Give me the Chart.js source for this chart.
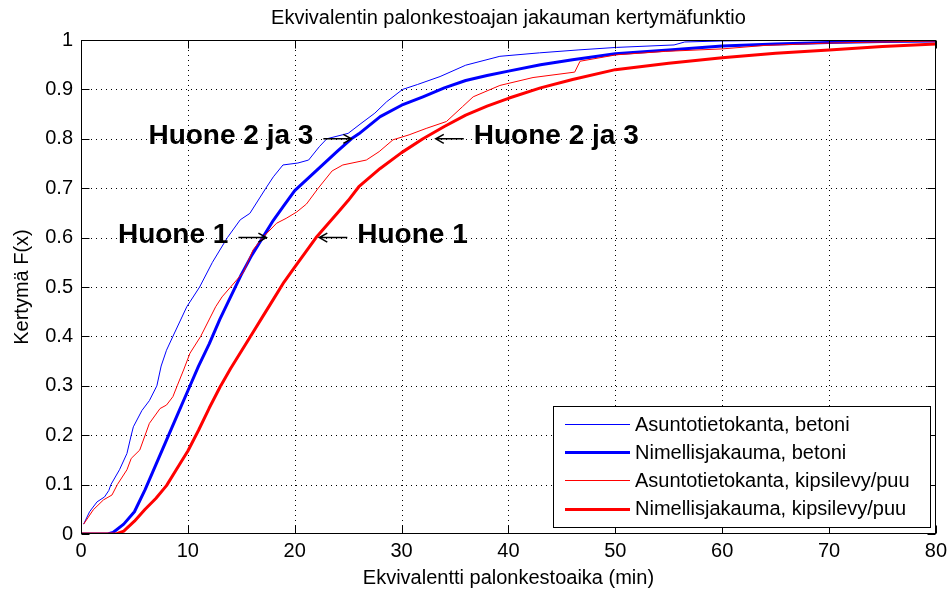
<!DOCTYPE html>
<html>
<head>
<meta charset="utf-8">
<script src="https://cdn.jsdelivr.net/npm/chart.js@4.4.1/dist/chart.umd.min.js"></script>
<style>
  html, body { margin: 0; padding: 0; background: #fff; }
  #wrap { width: 952px; height: 594px; }
</style>
</head>
<body>
<div id="wrap"><canvas id="c" width="952" height="594"></canvas></div>
<script>
// Texts
const chartTitle = 'Ekvivalentin palonkestoajan jakauman kertymäfunktio';
const xTitle = 'Ekvivalentti palonkestoaika (min)';
const yTitle = 'Kertymä F(x)';

// Axis ticks
const xTickValues = [0, 10, 20, 30, 40, 50, 60, 70, 80];
const yTickValues = [0, 0.1, 0.2, 0.3, 0.4, 0.5, 0.6, 0.7, 0.8, 0.9, 1];
const yTickLabels = ['0', '0.1', '0.2', '0.3', '0.4', '0.5', '0.6', '0.7', '0.8', '0.9', '1'];

// Series labels
const seriesLabels = [
  'Asuntotietokanta, betoni',
  'Nimellisjakauma, betoni',
  'Asuntotietokanta, kipsilevy/puu',
  'Nimellisjakauma, kipsilevy/puu'
];

// Asuntotietokanta, betoni (empirical CDF)
const asuBetoniX = [0.25, 0.8, 1.5, 2.2, 2.6, 2.8, 3.6, 4.3, 4.7, 4.9, 5.7, 6.4, 7.1, 7.5, 8.0, 8.6, 9.9, 11.1, 12.3, 13.7, 14.9, 15.8, 17.3, 18.0, 18.9, 20.3, 21.3, 22.3, 23.0, 25.0, 26.2, 27.5, 28.6, 30.1, 31.5, 33.6, 36.0, 39.2, 42.9, 46.6, 50.1, 55.5, 56.5, 60, 66.5, 80];
const asuBetoniF = [0.02, 0.045, 0.065, 0.075, 0.088, 0.1, 0.13, 0.163, 0.2, 0.217, 0.25, 0.27, 0.3, 0.34, 0.372, 0.4, 0.46, 0.5, 0.55, 0.6, 0.636, 0.649, 0.7, 0.723, 0.747, 0.751, 0.757, 0.784, 0.8, 0.811, 0.831, 0.852, 0.875, 0.9, 0.91, 0.926, 0.949, 0.967, 0.974, 0.98, 0.985, 0.99, 0.996, 0.998, 1.0, 1.0];

// Nimellisjakauma, betoni
const nimBetoniX = [0, 2.5, 3, 4, 5, 6, 7, 8, 9, 10, 11, 12, 13, 14, 15, 16, 17, 18, 19, 20, 22, 24, 25.3, 26, 28, 30, 32, 34, 36, 38, 40, 43, 46, 50, 55, 60, 65, 70, 75, 80];
const nimBetoniF = [0, 0, 0.003, 0.02, 0.045, 0.09, 0.14, 0.19, 0.24, 0.29, 0.34, 0.385, 0.435, 0.48, 0.525, 0.565, 0.6, 0.635, 0.665, 0.695, 0.735, 0.775, 0.8, 0.81, 0.845, 0.868, 0.885, 0.903, 0.918, 0.928, 0.937, 0.95, 0.96, 0.972, 0.98, 0.988, 0.992, 0.995, 0.997, 0.998];

// Asuntotietokanta, kipsilevy/puu (empirical CDF)
const asuPuuX = [0.25, 1.15, 2.1, 2.9, 3.4, 4.3, 4.7, 5.5, 6.0, 6.4, 7.4, 8.0, 8.6, 9.0, 9.6, 10.2, 11.2, 12.6, 13.2, 14.0, 15.2, 16.1, 17.0, 18.3, 19.2, 20.2, 21.1, 22.2, 23.5, 24.5, 26.7, 27.9, 29.2, 30.7, 32.3, 34.2, 35.7, 36.7, 39.2, 42.3, 46.2, 46.7, 50.1, 54.7, 60, 64, 70.3, 80];
const asuPuuF = [0.02, 0.049, 0.069, 0.079, 0.1, 0.13, 0.153, 0.17, 0.2, 0.224, 0.254, 0.261, 0.278, 0.3, 0.332, 0.366, 0.4, 0.46, 0.48, 0.5, 0.53, 0.575, 0.6, 0.629, 0.639, 0.652, 0.668, 0.7, 0.735, 0.747, 0.757, 0.774, 0.798, 0.808, 0.821, 0.835, 0.865, 0.885, 0.908, 0.924, 0.935, 0.957, 0.97, 0.977, 0.982, 0.989, 0.994, 0.998];

// Nimellisjakauma, kipsilevy/puu
const nimPuuX = [0, 3.3, 4, 5, 6, 7, 8, 9, 10, 11, 12, 13, 14, 15, 16, 17, 18, 19, 20, 21, 22, 23, 24, 25, 26, 28, 30, 32, 34, 36, 38, 40, 43, 46, 50, 55, 60, 65, 70, 75, 80];
const nimPuuF = [0, 0, 0.006, 0.026, 0.05, 0.072, 0.098, 0.133, 0.168, 0.21, 0.255, 0.297, 0.335, 0.37, 0.405, 0.44, 0.475, 0.51, 0.54, 0.57, 0.6, 0.625, 0.65, 0.675, 0.703, 0.74, 0.772, 0.8, 0.825, 0.848, 0.866, 0.882, 0.903, 0.92, 0.94, 0.953, 0.964, 0.973, 0.98, 0.987, 0.992];

// Text callouts pointing at the curves (data coordinates of the arrow tip)
const calloutTexts = ['Huone 2 ja 3', 'Huone 2 ja 3', 'Huone 1', 'Huone 1'];
const calloutX = [25.3, 33.2, 17.35, 22.3];
const calloutF = [0.8, 0.8, 0.6, 0.6];
const calloutSide = ['left', 'right', 'left', 'right'];

const FONT = '"Liberation Sans", Arial, Helvetica, sans-serif';

function pts(xs, ys) { return xs.map((x, i) => ({ x: x, y: ys[i] })); }

const lineBase = { pointRadius: 0, pointHoverRadius: 0, tension: 0, fill: false, borderJoinStyle: 'round' };

const datasets = [
  Object.assign({ label: seriesLabels[0], data: pts(asuBetoniX, asuBetoniF), borderColor: '#0000ff', borderWidth: 1, order: 4 }, lineBase),
  Object.assign({ label: seriesLabels[1], data: pts(nimBetoniX, nimBetoniF), borderColor: '#0000ff', borderWidth: 3, order: 3 }, lineBase),
  Object.assign({ label: seriesLabels[2], data: pts(asuPuuX, asuPuuF), borderColor: '#ff0000', borderWidth: 1, order: 2 }, lineBase),
  Object.assign({ label: seriesLabels[3], data: pts(nimPuuX, nimPuuF), borderColor: '#ff0000', borderWidth: 3, order: 1 }, lineBase)
];

function hline(ctx, x0, x1, y) { ctx.beginPath(); ctx.moveTo(x0, y); ctx.lineTo(x1, y); ctx.stroke(); }
function vline(ctx, x, y0, y1) { ctx.beginPath(); ctx.moveTo(x, y0); ctx.lineTo(x, y1); ctx.stroke(); }

// Dotted grid, boxed frame with inward ticks, callouts, legend and titles
const decor = {
  id: 'decor',
  beforeDatasetsDraw(chart) {
    const { ctx, chartArea: a, scales: { x, y } } = chart;
    ctx.save();
    ctx.strokeStyle = '#000';
    ctx.lineWidth = 1;
    ctx.setLineDash([1, 4]);
    xTickValues.forEach(v => {
      if (v === x.min || v === x.max) return;
      const px = Math.round(x.getPixelForValue(v)) + 0.5;
      vline(ctx, px, a.top, a.bottom);
    });
    yTickValues.forEach(v => {
      if (v === y.min || v === y.max) return;
      const py = Math.round(y.getPixelForValue(v)) + 0.5;
      hline(ctx, a.left, a.right, py);
    });
    ctx.restore();
  },
  afterDatasetsDraw(chart) {
    const { ctx, chartArea: a, scales: { x, y } } = chart;
    const L = Math.round(a.left) + 0.5, R = Math.round(a.right) - 0.5;
    const T = Math.round(a.top) + 0.5, B = Math.round(a.bottom) - 0.5;
    ctx.save();
    ctx.setLineDash([]);
    ctx.strokeStyle = '#000';
    ctx.lineWidth = 1;
    // frame
    ctx.strokeRect(L, T, R - L, B - T);
    // inward ticks on all four sides
    const tl = 8;
    xTickValues.forEach(v => {
      const px = Math.round(x.getPixelForValue(v)) + 0.5;
      vline(ctx, px, B, B - tl);
      vline(ctx, px, T, T + tl);
    });
    yTickValues.forEach(v => {
      const py = Math.round(y.getPixelForValue(v)) + 0.5;
      hline(ctx, L, L + tl, py);
      hline(ctx, R, R - tl, py);
    });

    // callouts
    ctx.fillStyle = '#000';
    ctx.font = 'bold 28px ' + FONT;
    ctx.textBaseline = 'alphabetic';
    ctx.lineWidth = 1.5;
    const arrowLen = 28, gap = 10;
    calloutTexts.forEach((t, i) => {
      const tx = x.getPixelForValue(calloutX[i]);
      const ty = y.getPixelForValue(calloutF[i]);
      const d = calloutSide[i] === 'left' ? -1 : 1;
      const x0 = tx + d * arrowLen;
      ctx.beginPath();
      ctx.moveTo(x0, ty); ctx.lineTo(tx, ty);
      ctx.moveTo(tx + d * 8, ty - 4.5); ctx.lineTo(tx, ty); ctx.lineTo(tx + d * 8, ty + 4.5);
      ctx.stroke();
      ctx.textAlign = d < 0 ? 'right' : 'left';
      ctx.fillText(t, x0 + d * gap, ty + 5);
    });

    // legend
    const lx = 553.5, ly = 406.5, lw = 377, lh = 121;
    ctx.fillStyle = '#fff';
    ctx.fillRect(lx, ly, lw, lh);
    ctx.lineWidth = 1;
    ctx.strokeStyle = '#000';
    ctx.strokeRect(lx, ly, lw, lh);
    ctx.font = '20px ' + FONT;
    ctx.textAlign = 'left';
    ctx.textBaseline = 'middle';
    chart.data.datasets.forEach((ds, i) => {
      const ry = 424 + i * 28.2;
      ctx.strokeStyle = ds.borderColor;
      ctx.lineWidth = ds.borderWidth;
      hline(ctx, 565, 630, Math.round(ry) + 0.5);
      ctx.fillStyle = '#000';
      ctx.fillText(ds.label, 635, ry + 1);
    });

    // titles
    ctx.fillStyle = '#000';
    ctx.font = '20px ' + FONT;
    ctx.textAlign = 'center';
    ctx.textBaseline = 'middle';
    ctx.fillText(chartTitle, (a.left + a.right) / 2, 18);
    ctx.fillText(xTitle, (a.left + a.right) / 2, 578);
    ctx.translate(22, (a.top + a.bottom) / 2);
    ctx.rotate(-Math.PI / 2);
    ctx.fillText(yTitle, 0, 0);
    ctx.restore();
  }
};

new Chart(document.getElementById('c'), {
  type: 'line',
  data: { datasets: datasets },
  options: {
    responsive: false,
    animation: false,
    devicePixelRatio: 1,
    layout: { padding: { top: 40, right: 15, left: 0, bottom: 0 } },
    plugins: { legend: { display: false }, title: { display: false }, tooltip: { enabled: false } },
    scales: {
      x: {
        type: 'linear', min: 0, max: 80,
        grid: { display: false, drawTicks: false },
        border: { display: false },
        afterBuildTicks: s => { s.ticks = xTickValues.map(v => ({ value: v })); },
        afterFit: s => { s.height = 60; },
        ticks: { color: '#000', padding: 5, maxRotation: 0, autoSkip: false, font: { family: FONT, size: 20 }, callback: v => String(v) }
      },
      y: {
        type: 'linear', min: 0, max: 1,
        grid: { display: false, drawTicks: false },
        border: { display: false },
        afterBuildTicks: s => { s.ticks = yTickValues.map(v => ({ value: v })); },
        afterFit: s => { s.width = 81; },
        ticks: { color: '#000', padding: 8, autoSkip: false, font: { family: FONT, size: 20 }, callback: (v, i) => yTickLabels[i] }
      }
    }
  },
  plugins: [decor]
});
</script>
</body>
</html>
